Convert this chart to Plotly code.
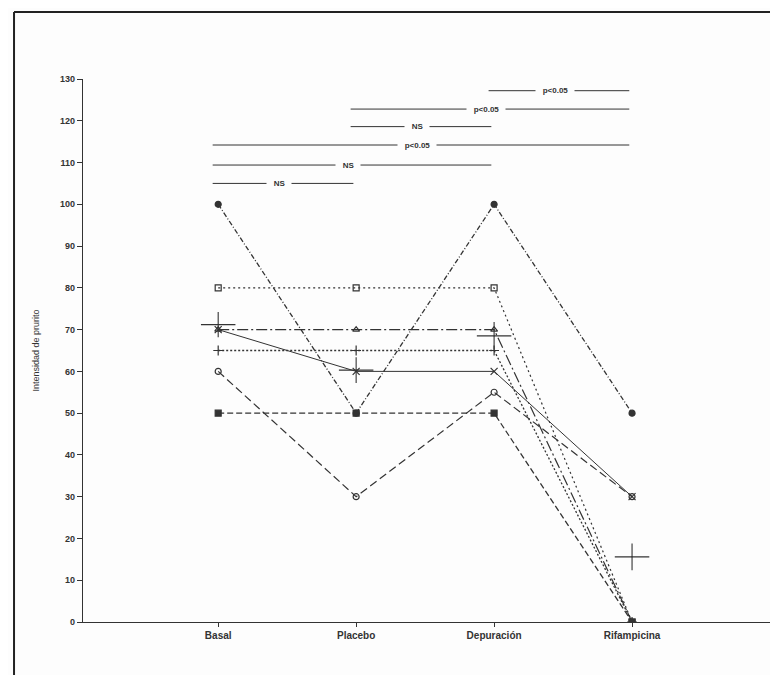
import plotly.graph_objects as go

categories = ["Basal", "Placebo", "Depuración", "Rifampicina"]
s_circle_filled = [100, 50, 100, 50]
s_square_open = [80, 80, 80, 0]
s_triangle = [70, 70, 70, 0]
s_plus = [65, 65, 65, 0]
s_x = [70, 60, 60, 30]
s_circle_open = [60, 30, 55, 30]
s_square_filled = [50, 50, 50, 0]
mean_values = [71.2, 60.3, 68.5, 15.6]
mean_err = [3.0, 3.1, 3.3, 3.2]
y_ticks = list(range(0, 131, 10))
sig_from = [0, 0, 0, 1, 1, 2]
sig_to = [1, 2, 3, 2, 3, 3]
sig_level = [105, 109.4, 114.2, 118.6, 122.8, 127.2]
sig_label = ["NS", "NS", "p<0.05", "NS", "p<0.05", "p<0.05"]

xs = list(range(len(categories)))
INK = "#333333"
BG = "#fdfdfd"
FONT = "Liberation Sans"

fig = go.Figure()

series = [
    (s_circle_filled, "circle", "5px,2px,1px,2px", 1.3, 6),
    (s_square_open, "square-open", "2px,3px", 1.2, 6),
    (s_triangle, "triangle-up-open", "11px,3px,2px,3px", 1.2, 6),
    (s_plus, "cross-thin-open", "2px,2px", 1.3, 7),
    (s_x, "x-thin-open", "solid", 1.0, 7),
    (s_circle_open, "circle-open", "8px,4px", 1.2, 6),
    (s_square_filled, "square", "6px,3px", 1.3, 6),
]
for vals, sym, dash, w, ms in series:
    fig.add_trace(go.Scatter(
        x=xs, y=vals, mode="lines+markers",
        line=dict(color=INK, width=w, dash=dash),
        marker=dict(symbol=sym, size=ms, color=INK, line=dict(color=INK, width=1.2)),
        showlegend=False, hoverinfo="skip"))

fig.add_trace(go.Scatter(
    x=xs, y=mean_values, mode="markers",
    marker=dict(size=1, color=INK),
    error_y=dict(type="data", array=mean_err, width=0, thickness=1.1, color=INK),
    error_x=dict(type="constant", value=0.125, width=0, thickness=1.1, color=INK),
    showlegend=False, hoverinfo="skip"))

shapes = []
annotations = []
for a, b, lvl, lab in zip(sig_from, sig_to, sig_level, sig_label):
    shapes.append(dict(type="line", xref="x", yref="y", x0=a - 0.04, x1=b - 0.02,
                       y0=lvl, y1=lvl, line=dict(color=INK, width=1)))
    annotations.append(dict(x=(a + b) / 2 - 0.06, y=lvl, xref="x", yref="y",
                            text="\u00a0\u00a0\u00a0" + lab + "\u00a0\u00a0\u00a0",
                            showarrow=False, bgcolor=BG,
                            font=dict(family=FONT, size=8, color=INK, weight="bold"),
                            borderpad=0))

# scan frame (left and top border); plot area is 543 px tall, 687 px wide
shapes.append(dict(type="line", xref="paper", yref="paper", x0=-0.1004, x1=-0.1004,
                   y0=-0.2, y1=1.1234, line=dict(color="#222222", width=2)))
shapes.append(dict(type="line", xref="paper", yref="paper", x0=-0.1004, x1=1.1,
                   y0=1.1234, y1=1.1234, line=dict(color="#222222", width=2)))

fig.update_layout(
    width=770, height=667,
    margin=dict(l=75, r=8, t=71, b=53),
    paper_bgcolor=BG, plot_bgcolor=BG,
    shapes=shapes, annotations=annotations,
    font=dict(family=FONT, color=INK),
    xaxis=dict(range=[-0.98, 4.0], tickvals=xs + [4], ticktext=categories + [""],
               showline=True, linecolor=INK, linewidth=1.3, ticks="outside",
               ticklen=4, tickcolor=INK, showgrid=False, zeroline=False,
               tickfont=dict(family=FONT, size=10, color=INK, weight="bold")),
    yaxis=dict(range=[0, 130], tickvals=y_ticks, showline=True, linecolor=INK,
               linewidth=1.3, ticks="outside", ticklen=5, tickcolor=INK,
               showgrid=False, zeroline=False,
               tickfont=dict(family=FONT, size=9, color=INK, weight="bold"),
               title=dict(text="Intensidad de prurito", standoff=18,
                          font=dict(family=FONT, size=9, color=INK))),
)

fig.write_html("out.html")
